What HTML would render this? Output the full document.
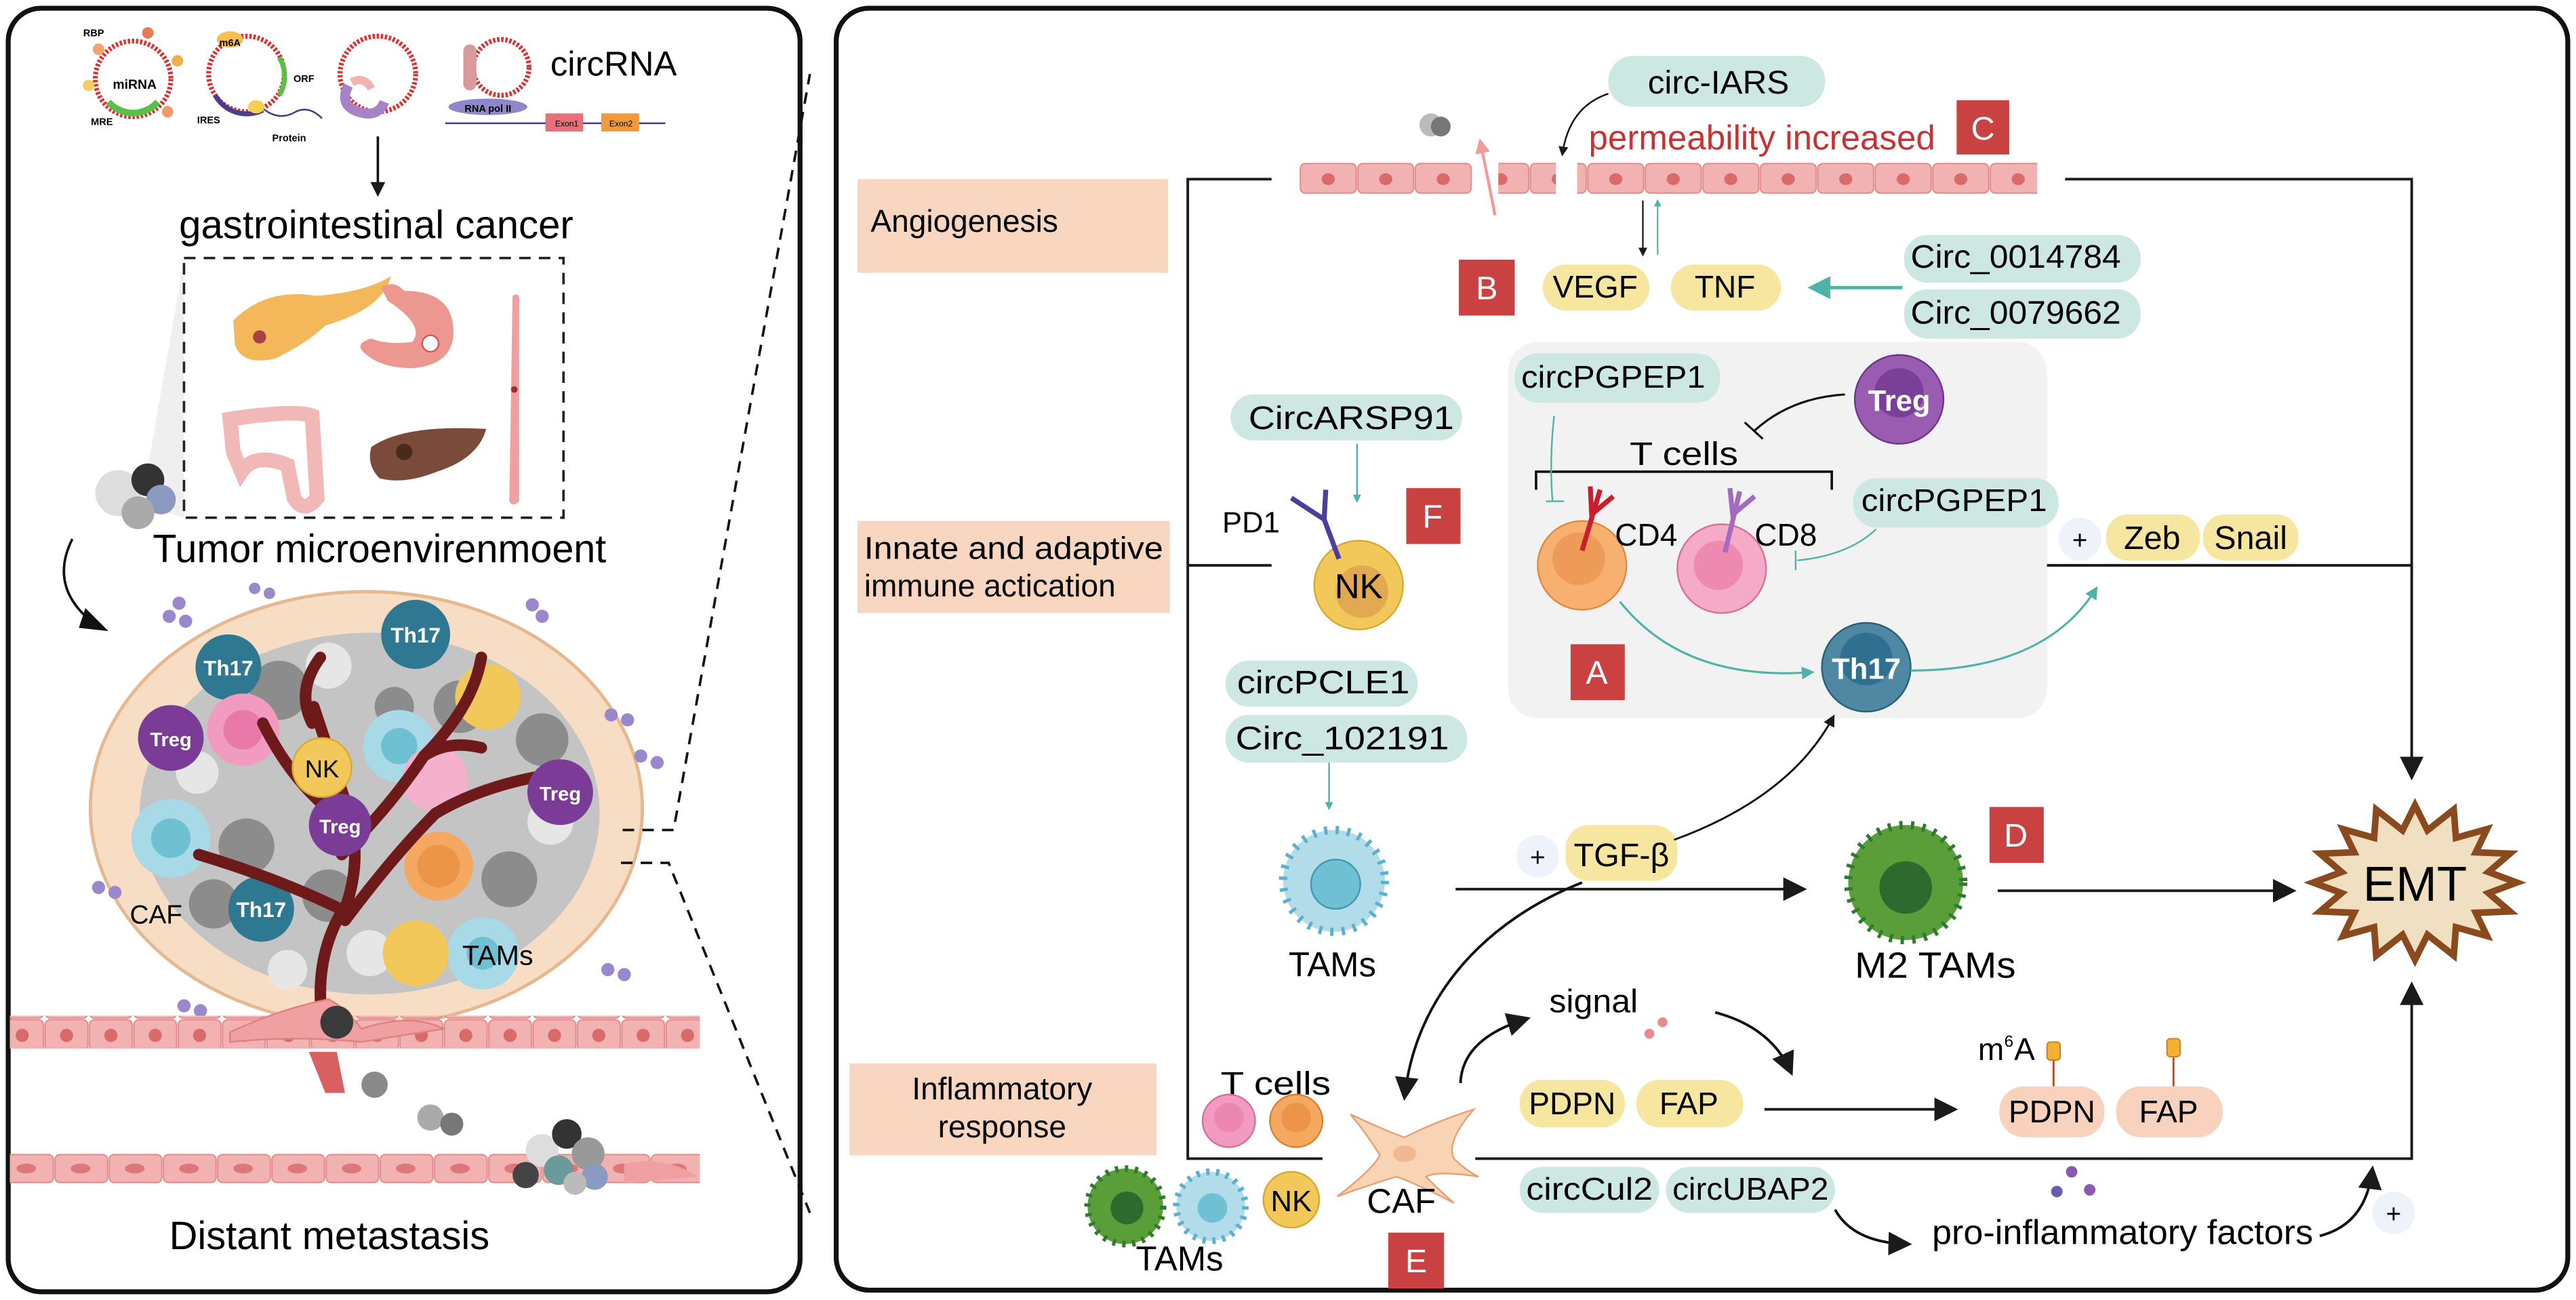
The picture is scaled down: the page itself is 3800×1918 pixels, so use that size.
<!DOCTYPE html>
<html><head><meta charset="utf-8"><style>
html,body{margin:0;padding:0;background:#fff}
svg{display:block}
text{font-family:"Liberation Sans",sans-serif}
</style></head><body>
<svg width="3800" height="1918" viewBox="0 0 1568 791" preserveAspectRatio="none" xmlns="http://www.w3.org/2000/svg">
<defs>
<marker id="ab" viewBox="0 0 10 10" refX="8" refY="5" markerWidth="9" markerHeight="9" orient="auto"><path d="M0,0L10,5L0,10z" fill="#1a1a1a"/></marker>
<marker id="abs" viewBox="0 0 10 10" refX="8" refY="5" markerWidth="6" markerHeight="6" orient="auto"><path d="M0,0L10,5L0,10z" fill="#1a1a1a"/></marker>
<marker id="at" viewBox="0 0 10 10" refX="8" refY="5" markerWidth="7" markerHeight="7" orient="auto"><path d="M0,0L10,5L0,10z" fill="#4fb3a8"/></marker>
<marker id="atb" viewBox="0 0 10 10" refX="8" refY="5" markerWidth="6" markerHeight="6" orient="auto"><path d="M0,0L10,5L0,10z" fill="#4fb3a8"/></marker>
<marker id="atl" viewBox="0 0 10 10" refX="8" refY="5" markerWidth="5" markerHeight="5" orient="auto"><path d="M0,0L10,5L0,10z" fill="#4fb3a8"/></marker>
<marker id="ap" viewBox="0 0 10 10" refX="8" refY="5" markerWidth="5" markerHeight="5" orient="auto"><path d="M0,0L10,5L0,10z" fill="#f09a9a"/></marker>
<pattern id="endo" x="0" y="0" width="27" height="20" patternUnits="userSpaceOnUse"><rect x="0.5" y="0.5" width="26" height="19" rx="3" fill="#f2b2b2" stroke="#e08a8a" stroke-width="0.8"/><ellipse cx="13.5" cy="10" rx="4" ry="4" fill="#d86a6a"/></pattern>
<pattern id="endoR" x="791" y="99" width="35" height="19" patternUnits="userSpaceOnUse"><rect x="0.5" y="0.5" width="34" height="18" rx="3" fill="#f2b2b2" stroke="#e08a8a" stroke-width="0.8"/><ellipse cx="17.5" cy="10" rx="4" ry="3.6" fill="#d86a6a"/></pattern>
<pattern id="endo2" x="0" y="0" width="33" height="18" patternUnits="userSpaceOnUse"><rect x="0.5" y="0.5" width="32" height="17" rx="3" fill="#f2b2b2" stroke="#e08a8a" stroke-width="0.8"/><ellipse cx="16" cy="9" rx="6" ry="3" fill="#de7878"/></pattern>
</defs>

<!-- LEFT PANEL -->
<rect x="5" y="5" width="482" height="781" rx="20" fill="#fff" stroke="#111" stroke-width="3"/>
<g fill="none" stroke="#d03a3a" stroke-width="3" stroke-dasharray="1.5 1">
<circle cx="81" cy="48" r="23"/><circle cx="150" cy="45" r="23"/><circle cx="230" cy="45" r="23"/><circle cx="305" cy="41" r="17"/>
</g>
<path d="M66,62 A20,20 0 0 0 96,62" stroke="#5cbf4a" stroke-width="4" fill="none"/>
<path d="M170,35 A22,22 0 0 1 170,58" stroke="#5cbf4a" stroke-width="3" fill="none"/>
<path d="M131,58 A22,22 0 0 0 160,67" stroke="#4b3c8c" stroke-width="3" fill="none"/>
<path d="M160,66 q10,8 20,2 q8,-4 16,4" stroke="#3a3a7a" stroke-width="1" fill="none"/>
<circle cx="60" cy="30" r="3.5" fill="#f2a46e"/><circle cx="90" cy="20" r="3.5" fill="#e87a55"/><circle cx="108" cy="37" r="3.5" fill="#f2b04a"/><circle cx="54" cy="52" r="3.5" fill="#f4d060"/><circle cx="102" cy="68" r="3.5" fill="#f29a6a"/>
<ellipse cx="140" cy="24" rx="8" ry="5" fill="#f5c050"/><ellipse cx="156" cy="65" rx="5" ry="4" fill="#f5d050"/>
<path d="M212,52 q-6,12 6,16 q12,4 16,-6" stroke="#a682c8" stroke-width="6" fill="none"/><path d="M214,50 q8,-4 12,4" stroke="#f1b4b4" stroke-width="5" fill="none"/>
<ellipse cx="297" cy="65" rx="24" ry="5" fill="#8e88c8"/><rect x="282" y="27" width="8" height="28" rx="4" fill="#d99a9a"/>
<line x1="271" y1="75" x2="405" y2="75" stroke="#3f3a9a" stroke-width="1"/>
<rect x="332" y="69" width="23" height="11" fill="#e8707a"/><rect x="366" y="69" width="23" height="11" fill="#f09a3a"/>
<text x="345" y="77" font-size="5" text-anchor="middle">Exon1</text><text x="378" y="77" font-size="5" text-anchor="middle">Exon2</text>
<text x="297" y="68" font-size="6" text-anchor="middle" font-weight="bold">RNA pol II</text>
<text x="82" y="54" font-size="8" font-weight="bold" text-anchor="middle">miRNA</text>
<text x="57" y="22" font-size="6" text-anchor="middle" font-weight="bold">RBP</text>
<text x="62" y="76" font-size="6" text-anchor="middle" font-weight="bold">MRE</text>
<text x="140" y="28" font-size="6" text-anchor="middle" font-weight="bold">m6A</text>
<text x="185" y="50" font-size="6" text-anchor="middle" font-weight="bold">ORF</text>
<text x="127" y="75" font-size="6" text-anchor="middle" font-weight="bold">IRES</text>
<text x="176" y="86" font-size="6" text-anchor="middle" font-weight="bold">Protein</text>
<text x="335" y="46" font-size="21">circRNA</text>
<line x1="230" y1="83" x2="230" y2="118" stroke="#111" stroke-width="1.5" marker-end="url(#abs)"/>
<text x="109" y="145" font-size="24" textLength="240" lengthAdjust="spacingAndGlyphs">gastrointestinal cancer</text>
<polygon points="88,296 112,158 112,315 95,310" fill="#e8e8e8" opacity="0.7"/>
<rect x="112" y="157" width="231" height="158" fill="#fff" stroke="#222" stroke-width="1.5" stroke-dasharray="7 5"/>
<path d="M142,195 q20,-20 50,-15 q30,-2 46,-12 q-5,20 -40,30 q-10,10 -30,20 q-20,5 -25,-8z" fill="#f3b85a"/><circle cx="158" cy="205" r="4" fill="#a8404a"/>
<path d="M232,175 q8,-5 14,2 q30,0 30,25 q0,20 -25,22 q-20,0 -30,-10 q-5,-5 5,-8 q10,4 25,2 q8,-10 -15,-25z" fill="#ec9790"/><circle cx="262" cy="209" r="5" fill="#fff" stroke="#e05050"/>
<path d="M312,180 q5,-3 4,5 l0,120 q-4,4 -6,0z" fill="#f0a0a0"/><circle cx="313" cy="237" r="2" fill="#a03030"/>
<path d="M140,255 q40,-6 50,-2 l3,50 q-8,10 -14,0 l-4,-20 q-20,-8 -28,4 l-5,-12z" fill="none" stroke="#f2b8b8" stroke-width="9"/>
<path d="M226,272 q20,-14 70,-11 q-5,18 -30,26 q-20,8 -35,4 q-8,-8 -5,-19z" fill="#7a4a3a"/><circle cx="246" cy="275" r="5" fill="#4a2a1a"/>
<circle cx="72" cy="300" r="14" fill="#ddd"/><circle cx="90" cy="292" r="10" fill="#333"/><circle cx="98" cy="304" r="9" fill="#8a9ac0"/><circle cx="84" cy="312" r="10" fill="#aaa"/>
<text x="93" y="342" font-size="24" textLength="276" lengthAdjust="spacingAndGlyphs">Tumor microenvirenmoent</text>
<path d="M44,328 q-15,30 14,52" fill="none" stroke="#111" stroke-width="1.5"/><path d="M52,370 l14,14 -18,-2z" fill="#111"/>
<ellipse cx="223" cy="492" rx="168" ry="132" fill="#f7ddc4" stroke="#e6b890" stroke-width="2"/>
<ellipse cx="225" cy="495" rx="140" ry="110" fill="#c4c4c4"/>
<g fill="#8c8c8c"><circle cx="170" cy="420" r="18"/><circle cx="280" cy="430" r="16"/><circle cx="330" cy="450" r="16"/><circle cx="150" cy="515" r="17"/><circle cx="310" cy="535" r="17"/><circle cx="200" cy="545" r="16"/><circle cx="130" cy="550" r="15"/><circle cx="240" cy="430" r="12"/></g>
<g fill="#e6e6e6"><circle cx="200" cy="405" r="14"/><circle cx="120" cy="470" r="13"/><circle cx="335" cy="500" r="14"/><circle cx="225" cy="580" r="14"/><circle cx="175" cy="590" r="12"/></g>
<g fill="#a8d9e6"><circle cx="104" cy="510" r="24"/><circle cx="243" cy="454" r="22"/><circle cx="294" cy="580" r="22"/></g>
<g fill="#6ec0d2"><circle cx="104" cy="510" r="12"/><circle cx="243" cy="454" r="11"/><circle cx="294" cy="580" r="10"/></g>
<circle cx="253" cy="386" r="21" fill="#2f7892"/><text x="253" y="391" font-size="13" fill="#fff" text-anchor="middle" font-weight="bold">Th17</text>
<circle cx="139" cy="406" r="20" fill="#2f7892"/><text x="139" y="411" font-size="13" fill="#fff" text-anchor="middle" font-weight="bold">Th17</text>
<circle cx="159" cy="553" r="20" fill="#2f7892"/><text x="159" y="558" font-size="13" fill="#fff" text-anchor="middle" font-weight="bold">Th17</text>
<circle cx="148" cy="444" r="22" fill="#f19bc0"/><circle cx="148" cy="444" r="12" fill="#e879a8"/>
<circle cx="265" cy="474" r="20" fill="#f5b0cc"/>
<circle cx="297" cy="424" r="20" fill="#f2c85a"/>
<circle cx="253" cy="580" r="20" fill="#f2c85a"/>
<circle cx="267" cy="527" r="21" fill="#f4a860"/><circle cx="267" cy="527" r="13" fill="#ec9448"/>
<path d="M196,620 q-5,-40 15,-70 q10,-30 0,-60 q-10,-30 -20,-60 M211,555 q-40,-20 -90,-35 M208,520 q30,-30 50,-60 q15,-10 35,-5 M210,560 q30,-40 55,-65 q25,-15 60,-22 M210,500 q-30,-20 -50,-60 M190,440 q-10,-20 5,-40 M258,460 q30,-30 35,-60" fill="none" stroke="#6e1a1a" stroke-width="7" stroke-linecap="round"/>
<circle cx="104" cy="449" r="20" fill="#7b3c98"/><text x="104" y="454" font-size="12" fill="#fff" text-anchor="middle" font-weight="bold">Treg</text>
<circle cx="207" cy="502" r="19" fill="#7b3c98"/><text x="207" y="507" font-size="12" fill="#fff" text-anchor="middle" font-weight="bold">Treg</text>
<circle cx="341" cy="482" r="20" fill="#7b3c98"/><text x="341" y="487" font-size="12" fill="#fff" text-anchor="middle" font-weight="bold">Treg</text>
<circle cx="196" cy="467" r="18" fill="#f2c85a" stroke="#d8a830"/><text x="196" y="473" font-size="15" text-anchor="middle">NK</text>
<text x="95" y="562" font-size="16" text-anchor="middle">CAF</text>
<text x="303" y="587" font-size="17" text-anchor="middle">TAMs</text>
<g fill="#9b88cc"><circle cx="103" cy="375" r="4"/><circle cx="113" cy="378" r="4"/><circle cx="109" cy="367" r="4"/><circle cx="155" cy="358" r="3.5"/><circle cx="164" cy="361" r="3.5"/><circle cx="330" cy="375" r="4"/><circle cx="324" cy="368" r="4"/><circle cx="372" cy="435" r="4"/><circle cx="382" cy="438" r="4"/><circle cx="390" cy="460" r="4"/><circle cx="400" cy="464" r="4"/><circle cx="370" cy="590" r="4"/><circle cx="380" cy="593" r="4"/><circle cx="60" cy="540" r="4"/><circle cx="70" cy="543" r="4"/><circle cx="112" cy="612" r="4"/><circle cx="122" cy="615" r="4"/></g>
<rect x="6" y="618" width="420" height="20" fill="url(#endo)"/>
<path d="M140,628 q30,-14 60,-20 q10,5 20,18 q30,-10 50,0 l-50,8 q-40,-4 -80,0z" fill="#f0a0a0" stroke="#e08080"/>
<path d="M188,640 l10,25 l12,0 l-5,-25z" fill="#d86060"/>
<circle cx="205" cy="622" r="10" fill="#3a3a3a"/><circle cx="228" cy="660" r="8" fill="#8a8a8a"/><circle cx="262" cy="680" r="8" fill="#aaa"/><circle cx="275" cy="684" r="7" fill="#777"/>
<rect x="6" y="702" width="420" height="18" fill="url(#endo2)"/>
<path d="M380,708 q25,-5 45,8 l-45,4z" fill="#f0a0a0"/>
<circle cx="330" cy="700" r="10" fill="#ddd"/><circle cx="345" cy="690" r="9" fill="#333"/><circle cx="358" cy="702" r="10" fill="#999"/><circle cx="340" cy="712" r="9" fill="#6a9a9a"/><circle cx="362" cy="716" r="8" fill="#8a9ac0"/><circle cx="320" cy="715" r="8" fill="#444"/><circle cx="350" cy="720" r="7" fill="#bbb"/>
<text x="103" y="760" font-size="24" textLength="195" lengthAdjust="spacingAndGlyphs">Distant metastasis</text>

<g stroke="#111" stroke-width="1.5" stroke-dasharray="7 5" fill="none">
<path d="M379,505 L410,505 L493,45"/>
<path d="M378,525 L407,525 L493,738"/>
</g>

<!-- RIGHT PANEL -->
<rect x="509" y="5" width="1054" height="780" rx="20" fill="#fff" stroke="#111" stroke-width="3"/>
<rect x="522" y="109" width="189" height="57" fill="#f9d6bf"/><text x="530" y="141" font-size="19">Angiogenesis</text>
<rect x="522" y="317" width="190" height="56" fill="#f9d6bf"/><text x="526" y="340" font-size="19" textLength="182" lengthAdjust="spacingAndGlyphs">Innate and adaptive</text><text x="526" y="363" font-size="19">immune actication</text>
<rect x="517" y="647" width="187" height="56" fill="#f9d6bf"/><text x="610" y="669" font-size="19" text-anchor="middle">Inflammatory</text><text x="610" y="692" font-size="19" text-anchor="middle">response</text>

<g stroke="#1a1a1a" stroke-width="1.6" fill="none">
<path d="M774,109 L723,109 L723,705 L805,705"/>
<path d="M723,344 L774,344"/>
<path d="M1183,344 L1468,344"/>
<path d="M1257,109 L1468,109 L1468,472" marker-end="url(#ab)"/>
<path d="M898,705 L1468,705 L1468,600" marker-end="url(#ab)"/>
<path d="M886,541 L1097,541" marker-end="url(#ab)"/>
<path d="M1216,542 L1395,542" marker-end="url(#ab)"/>
<path d="M1074,675 L1189,675" marker-end="url(#ab)"/>
</g>
<!-- endothelium -->
<rect x="791" y="99" width="105" height="19" fill="url(#endoR)"/>
<rect x="912" y="99" width="35" height="19" fill="url(#endoR)" transform="translate(0,0)"/>
<rect x="960" y="99" width="280" height="19" fill="url(#endoR)"/>
<path d="M910,131 Q906,110 901,86" stroke="#f09a9a" stroke-width="1.8" fill="none" marker-end="url(#ap)"/>
<circle cx="871" cy="76" r="7" fill="#bbb"/><circle cx="877" cy="77" r="6" fill="#777"/>
<rect x="979" y="34" width="132" height="31" rx="15" fill="#cde8e3"/><text x="1003" y="57" font-size="20" textLength="86" lengthAdjust="spacingAndGlyphs">circ-IARS</text>
<path d="M979,57 Q955,65 951,94" stroke="#111" stroke-width="1" fill="none" marker-end="url(#abs)"/>
<text x="967" y="91" font-size="21" fill="#c43434" textLength="211" lengthAdjust="spacingAndGlyphs">permeability increased</text>
<rect x="1191" y="61" width="32" height="33" fill="#c94141"/><text x="1207" y="85" font-size="20" fill="#fff" text-anchor="middle">C</text>
<line x1="1000" y1="122" x2="1000" y2="155" stroke="#111" stroke-width="0.9" marker-end="url(#abs)"/>
<line x1="1009" y1="155" x2="1009" y2="122" stroke="#4fb3a8" stroke-width="0.9" marker-end="url(#atl)"/>
<rect x="888" y="158" width="34" height="34" fill="#c94141"/><text x="905" y="182" font-size="20" fill="#fff" text-anchor="middle">B</text>
<rect x="939" y="161" width="65" height="28" rx="14" fill="#f6e6a0"/><text x="971" y="181" font-size="19" text-anchor="middle">VEGF</text>
<rect x="1017" y="161" width="67" height="28" rx="14" fill="#f6e6a0"/><text x="1050" y="181" font-size="19" text-anchor="middle">TNF</text>
<rect x="1159" y="143" width="144" height="29" rx="14" fill="#cde8e3"/><text x="1163" y="163" font-size="20" textLength="128" lengthAdjust="spacingAndGlyphs">Circ_0014784</text>
<rect x="1159" y="176" width="144" height="30" rx="14" fill="#cde8e3"/><text x="1163" y="197" font-size="20" textLength="128" lengthAdjust="spacingAndGlyphs">Circ_0079662</text>
<line x1="1158" y1="175" x2="1103" y2="175" stroke="#4fb3a8" stroke-width="2" marker-end="url(#at)"/>
<!-- T cell grey box -->
<rect x="918" y="208" width="328" height="229" rx="18" fill="#f2f2f2"/>
<rect x="922" y="215" width="125" height="30" rx="14" fill="#cde8e3"/><text x="926" y="236" font-size="19" textLength="112" lengthAdjust="spacingAndGlyphs">circPGPEP1</text>
<circle cx="1156" cy="243" r="27" fill="#9a5cb0" stroke="#6e3590"/><circle cx="1156" cy="239" r="15" fill="#7a3f98"/><text x="1156" y="250" font-size="18" fill="#fff" text-anchor="middle" font-weight="bold">Treg</text>
<path d="M1123,240 Q1090,242 1068,262" stroke="#111" stroke-width="1.3" fill="none"/><line x1="1062" y1="257" x2="1073" y2="267" stroke="#111" stroke-width="1.3"/>
<text x="992" y="283" font-size="20" textLength="66" lengthAdjust="spacingAndGlyphs">T cells</text>
<path d="M935,298 L935,287 L1115,287 L1115,298" stroke="#111" stroke-width="1.5" fill="none"/>
<path d="M946,253 Q943,280 945,305" stroke="#4fb3a8" stroke-width="1" fill="none"/><line x1="941" y1="305" x2="952" y2="305" stroke="#4fb3a8" stroke-width="1"/>
<circle cx="963" cy="344" r="27" fill="#f7b070" stroke="#e08a40"/><circle cx="961" cy="340" r="16" fill="#ee9a58"/>
<path d="M963,335 L974,298 M969,316 L968,296 M970,312 L982,302" stroke="#c81f2f" stroke-width="3" fill="none"/>
<text x="983" y="332" font-size="19" textLength="38" lengthAdjust="spacingAndGlyphs">CD4</text>
<circle cx="1048" cy="346" r="27" fill="#f5aac8" stroke="#d87098"/><circle cx="1046" cy="344" r="15" fill="#ee8ab0"/>
<path d="M1050,336 L1059,299 M1055,316 L1053,297 M1056,312 L1068,302" stroke="#a46ac0" stroke-width="3" fill="none"/>
<text x="1068" y="332" font-size="19" textLength="38" lengthAdjust="spacingAndGlyphs">CD8</text>
<rect x="1128" y="291" width="125" height="30" rx="14" fill="#cde8e3"/><text x="1133" y="311" font-size="19" textLength="113" lengthAdjust="spacingAndGlyphs">circPGPEP1</text>
<path d="M1142,322 Q1125,338 1094,341" stroke="#4fb3a8" stroke-width="1" fill="none"/><line x1="1093" y1="335" x2="1093" y2="347" stroke="#4fb3a8" stroke-width="1"/>
<rect x="956" y="392" width="33" height="34" fill="#c94141"/><text x="972" y="416" font-size="20" fill="#fff" text-anchor="middle">A</text>
<path d="M986,366 Q1025,415 1103,409" stroke="#4fb3a8" stroke-width="1.3" fill="none" marker-end="url(#atb)"/>
<circle cx="1136" cy="406" r="27" fill="#4f88a2" stroke="#2a5f7a"/><circle cx="1136" cy="401" r="16" fill="#2f7090"/><text x="1136" y="413" font-size="18" fill="#fff" text-anchor="middle" font-weight="bold">Th17</text>
<path d="M1163,408 Q1245,408 1276,358" stroke="#4fb3a8" stroke-width="1.3" fill="none" marker-end="url(#atb)"/>
<circle cx="1266" cy="328" r="13" fill="#eef2fb"/><text x="1266" y="334" font-size="16" text-anchor="middle">+</text>
<rect x="1282" y="313" width="57" height="28" rx="13" fill="#f6e6a0"/><text x="1310" y="334" font-size="20" text-anchor="middle">Zeb</text>
<rect x="1341" y="313" width="58" height="28" rx="13" fill="#f6e6a0"/><text x="1370" y="334" font-size="20" text-anchor="middle">Snail</text>
<!-- NK -->
<rect x="749" y="240" width="141" height="28" rx="14" fill="#cde8e3"/><text x="760" y="261" font-size="20" textLength="125" lengthAdjust="spacingAndGlyphs">CircARSP91</text>
<line x1="826" y1="270" x2="826" y2="305" stroke="#4fb3a8" stroke-width="1" marker-end="url(#atl)"/>
<rect x="856" y="297" width="33" height="34" fill="#c94141"/><text x="872" y="321" font-size="20" fill="#fff" text-anchor="middle">F</text>
<circle cx="827" cy="356" r="27" fill="#f2c85a" stroke="#d8a830"/><circle cx="829" cy="360" r="16" fill="#e2aa50"/><text x="827" y="364" font-size="21" text-anchor="middle">NK</text>
<path d="M815,340 L806,316 M806,316 L786,303 M806,316 L807,298" stroke="#4a3f9a" stroke-width="3" fill="none"/>
<text x="744" y="324" font-size="18" textLength="35" lengthAdjust="spacingAndGlyphs">PD1</text>
<rect x="746" y="402" width="117" height="28" rx="14" fill="#cde8e3"/><text x="753" y="422" font-size="20" textLength="105" lengthAdjust="spacingAndGlyphs">circPCLE1</text>
<rect x="746" y="435" width="147" height="29" rx="14" fill="#cde8e3"/><text x="752" y="456" font-size="20" textLength="130" lengthAdjust="spacingAndGlyphs">Circ_102191</text>
<line x1="809" y1="464" x2="809" y2="492" stroke="#4fb3a8" stroke-width="1" marker-end="url(#atl)"/>
<!-- TAMs -->
<circle cx="812" cy="536" r="31" fill="#b2dcea" stroke="#5ab0ce" stroke-width="5" stroke-dasharray="2 5"/>
<circle cx="812" cy="536" r="28" fill="#b2dcea"/>
<circle cx="813" cy="538" r="15" fill="#6ec0d2" stroke="#3f9ab4"/>
<text x="811" y="594" font-size="21" text-anchor="middle">TAMs</text>
<circle cx="936" cy="521" r="13" fill="#eef2fb"/><text x="936" y="527" font-size="16" text-anchor="middle">+</text>
<rect x="953" y="502" width="68" height="34" rx="14" fill="#f6e6a0"/><text x="987" y="527" font-size="20" text-anchor="middle">TGF-β</text>
<path d="M1019,511 Q1090,485 1116,436" stroke="#111" stroke-width="1.2" fill="none" marker-end="url(#abs)"/>
<path d="M963,537 C905,560 862,605 855,667" stroke="#111" stroke-width="1.6" fill="none" marker-end="url(#ab)"/>
<circle cx="1160" cy="537" r="35" fill="#5a9e3a" stroke="#2e7a2e" stroke-width="5" stroke-dasharray="2 5"/>
<circle cx="1160" cy="537" r="31" fill="#5a9e3a"/>
<circle cx="1160" cy="540" r="16" fill="#2e6a2e"/>
<rect x="1211" y="491" width="33" height="34" fill="#c94141"/><text x="1227" y="515" font-size="20" fill="#fff" text-anchor="middle">D</text>
<text x="1178" y="595" font-size="22" text-anchor="middle" textLength="98" lengthAdjust="spacingAndGlyphs">M2 TAMs</text>
<!-- EMT -->
<polygon points="1532,537 1514.7,543.4 1527.8,554.6 1507,555.4 1513.8,569.5 1494.9,564.2 1493.6,581.4 1477.6,568.8 1470,584 1462.4,568.8 1446.4,581.4 1445.1,564.2 1426.2,569.5 1433,555.4 1412.2,554.6 1425.3,543.4 1408,537 1425.3,530.6 1412.2,519.4 1433,518.6 1426.2,504.5 1445.1,509.8 1446.4,492.6 1462.4,505.2 1470,490 1477.6,505.2 1493.6,492.6 1494.9,509.8 1513.8,504.5 1507,518.6 1527.8,519.4 1514.7,530.6" fill="#f0dfc0" stroke="#8a4a1e" stroke-width="4" stroke-linejoin="miter"/>
<text x="1470" y="548" font-size="30" text-anchor="middle">EMT</text>
<!-- inflammatory -->
<text x="943" y="616" font-size="20" textLength="54" lengthAdjust="spacingAndGlyphs">signal</text>
<circle cx="1004" cy="629" r="3" fill="#e88a8a"/><circle cx="1012" cy="622" r="3" fill="#e88a8a"/>
<path d="M889,659 Q890,632 929,620" stroke="#111" stroke-width="1.6" fill="none" marker-end="url(#ab)"/>
<path d="M1044,616 Q1078,625 1090,652" stroke="#111" stroke-width="1.6" fill="none" marker-end="url(#ab)"/>
<rect x="925" y="657" width="64" height="29" rx="14" fill="#f6e6a0"/><text x="957" y="678" font-size="19" text-anchor="middle">PDPN</text>
<rect x="996" y="657" width="65" height="29" rx="14" fill="#f6e6a0"/><text x="1028" y="678" font-size="19" text-anchor="middle">FAP</text>
<text x="1204" y="645" font-size="19">m</text><text x="1220" y="637" font-size="10">6</text><text x="1226" y="645" font-size="19">A</text>
<line x1="1250" y1="644" x2="1250" y2="661" stroke="#b0502a" stroke-width="1.2"/><rect x="1246" y="634" width="8" height="11" rx="2" fill="#f4b030" stroke="#c88020" stroke-width="0.8"/>
<line x1="1323" y1="643" x2="1323" y2="661" stroke="#b0502a" stroke-width="1.2"/><rect x="1319" y="632" width="8" height="11" rx="2" fill="#f4b030" stroke="#c88020" stroke-width="0.8"/>
<rect x="1217" y="661" width="64" height="31" rx="15" fill="#f8d2bc"/><text x="1249" y="683" font-size="19" text-anchor="middle">PDPN</text>
<rect x="1288" y="661" width="65" height="31" rx="15" fill="#f8d2bc"/><text x="1320" y="683" font-size="19" text-anchor="middle">FAP</text>
<!-- CAF etc -->
<text x="743" y="666" font-size="20" textLength="67" lengthAdjust="spacingAndGlyphs">T cells</text>
<circle cx="748" cy="682" r="16" fill="#f29ac0" stroke="#d0709a"/><circle cx="748" cy="680" r="9" fill="#ec88b0"/>
<circle cx="789" cy="682" r="16" fill="#f4a860" stroke="#d88030"/><circle cx="789" cy="680" r="9" fill="#ec9448"/>
<path d="M822,678 Q848,690 855,692 Q875,682 897,675 Q880,695 885,705 Q892,712 900,716 Q875,712 868,716 Q878,726 885,732 Q862,720 850,716 Q830,722 814,728 Q835,712 840,703 Q832,690 822,678z" fill="#f8d4b4" stroke="#e8a070" stroke-width="1"/>
<ellipse cx="855" cy="702" rx="7" ry="5" fill="#f0b890"/>
<text x="853" y="738" font-size="21" text-anchor="middle">CAF</text>
<rect x="845" y="750" width="34" height="34" fill="#c94141"/><text x="862" y="774" font-size="20" fill="#fff" text-anchor="middle">E</text>
<circle cx="685" cy="734" r="23" fill="#5a9e3a" stroke="#2e7a2e" stroke-width="4" stroke-dasharray="2 4"/><circle cx="685" cy="734" r="20" fill="#5a9e3a"/><circle cx="686" cy="735" r="10" fill="#2e6a2e"/>
<circle cx="737" cy="734" r="21" fill="#b2dcea" stroke="#5ab0ce" stroke-width="4" stroke-dasharray="2 4"/><circle cx="737" cy="734" r="18" fill="#b2dcea"/><circle cx="738" cy="735" r="9" fill="#6ec0d2"/>
<circle cx="786" cy="730" r="17" fill="#f2c85a" stroke="#d8a830"/><text x="786" y="737" font-size="18" text-anchor="middle">NK</text>
<text x="718" y="773" font-size="21" text-anchor="middle">TAMs</text>
<rect x="925" y="710" width="85" height="28" rx="14" fill="#cde8e3"/><text x="929" y="730" font-size="19" textLength="77" lengthAdjust="spacingAndGlyphs">circCul2</text>
<rect x="1014" y="710" width="103" height="28" rx="14" fill="#cde8e3"/><text x="1018" y="730" font-size="19" textLength="95" lengthAdjust="spacingAndGlyphs">circUBAP2</text>
<path d="M1117,736 Q1128,756 1161,757" stroke="#111" stroke-width="1.6" fill="none" marker-end="url(#ab)"/>
<circle cx="1261" cy="713" r="3.5" fill="#8a5ab0"/><circle cx="1252" cy="725" r="3.5" fill="#6a5ab0"/><circle cx="1272" cy="724" r="3.5" fill="#8a5ab0"/>
<text x="1176" y="757" font-size="21" textLength="232" lengthAdjust="spacingAndGlyphs">pro-inflammatory factors</text>
<path d="M1412,752 Q1440,745 1444,712" stroke="#111" stroke-width="1.6" fill="none" marker-end="url(#ab)"/>
<circle cx="1457" cy="738" r="13" fill="#eef2fb"/><text x="1457" y="744" font-size="16" text-anchor="middle">+</text>
</svg>
</body></html>
